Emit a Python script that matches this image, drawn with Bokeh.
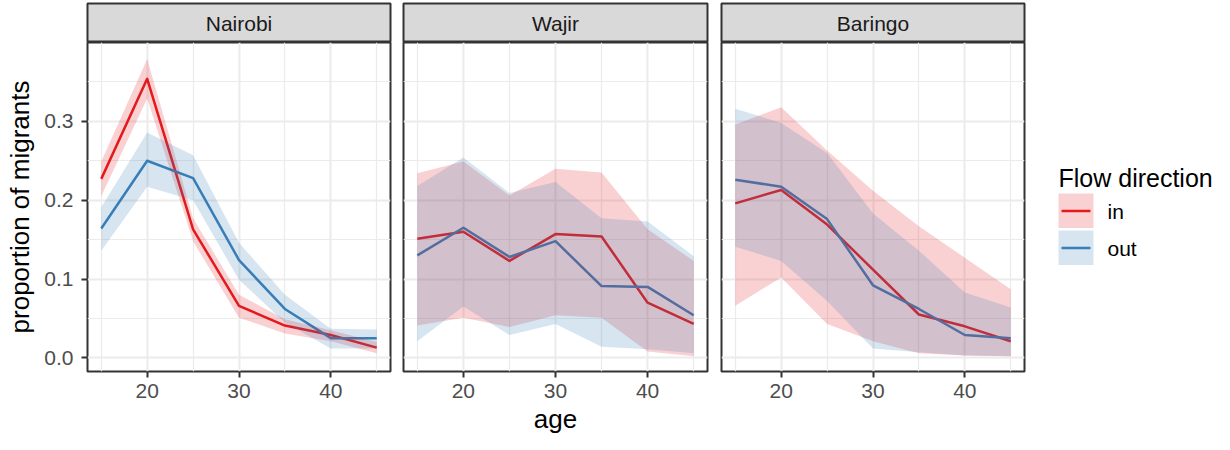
from bokeh.plotting import figure
from bokeh.layouts import row, column
from bokeh.models import Range1d, FixedTicker, PrintfTickFormatter, Grid
from bokeh.embed import file_html
from bokeh.resources import INLINE
from bokeh.core.properties import value

# ---------------- data ----------------
ages = [15, 20, 25, 30, 35, 40, 45]
regions = ["Nairobi", "Wajir", "Baringo"]
flows = ["in", "out"]
legend_title = "Flow direction"
x_title = "age"
y_title = "proportion of migrants"

nairobi_in = [0.227, 0.354, 0.163, 0.066, 0.041, 0.029, 0.013]
nairobi_in_lo = [0.205, 0.329, 0.148, 0.051, 0.031, 0.021, 0.006]
nairobi_in_hi = [0.249, 0.379, 0.177, 0.080, 0.049, 0.035, 0.020]
nairobi_out = [0.164, 0.250, 0.228, 0.124, 0.062, 0.025, 0.025]
nairobi_out_lo = [0.136, 0.217, 0.200, 0.099, 0.045, 0.012, 0.012]
nairobi_out_hi = [0.191, 0.286, 0.257, 0.146, 0.080, 0.037, 0.036]

wajir_in = [0.151, 0.160, 0.123, 0.157, 0.154, 0.070, 0.043]
wajir_in_lo = [0.041, 0.051, 0.039, 0.054, 0.051, 0.008, 0.002]
wajir_in_hi = [0.234, 0.249, 0.206, 0.240, 0.235, 0.163, 0.123]
wajir_out = [0.130, 0.165, 0.128, 0.148, 0.091, 0.090, 0.054]
wajir_out_lo = [0.021, 0.065, 0.029, 0.043, 0.014, 0.011, 0.006]
wajir_out_hi = [0.218, 0.254, 0.209, 0.223, 0.177, 0.173, 0.129]

baringo_in = [0.196, 0.213, 0.169, 0.112, 0.055, 0.040, 0.021]
baringo_in_lo = [0.066, 0.102, 0.043, 0.021, 0.006, 0.003, 0.002]
baringo_in_hi = [0.296, 0.318, 0.263, 0.212, 0.167, 0.127, 0.087]
baringo_out = [0.226, 0.217, 0.176, 0.092, 0.062, 0.029, 0.025]
baringo_out_lo = [0.141, 0.123, 0.072, 0.012, 0.007, 0.003, 0.002]
baringo_out_hi = [0.316, 0.298, 0.260, 0.183, 0.136, 0.083, 0.064]

x_ticks = [20, 30, 40]
x_minor = [15, 25, 35, 45]
y_ticks = [0.0, 0.1, 0.2, 0.3]
y_minor = [0.05, 0.15, 0.25, 0.35]

series = {
    "Nairobi": {"in": (nairobi_in, nairobi_in_lo, nairobi_in_hi),
                "out": (nairobi_out, nairobi_out_lo, nairobi_out_hi)},
    "Wajir": {"in": (wajir_in, wajir_in_lo, wajir_in_hi),
              "out": (wajir_out, wajir_out_lo, wajir_out_hi)},
    "Baringo": {"in": (baringo_in, baringo_in_lo, baringo_in_hi),
                "out": (baringo_out, baringo_out_lo, baringo_out_hi)},
}

# ---------------- style ----------------
FONT = "Liberation Sans"
colors = {"in": "#E41A1C", "out": "#377EB8"}
RIB_ALPHA = 0.2
BORDER = "#333333"
GRID = "#EBEBEB"
FRAME_H = 329
STRIP_H = 39
lefts = [87, 7, 7]
rights = [6, 7, 5]
fwidths = [303, 304, 303]


def make_strip(name, i):
    s = figure(frame_width=fwidths[i], frame_height=STRIP_H,
               x_range=Range1d(0, 1), y_range=Range1d(0, 1),
               x_axis_location=None, y_axis_location=None,
               min_border_left=lefts[i], min_border_right=rights[i],
               min_border_top=3, min_border_bottom=0,
               background_fill_color="#D9D9D9", border_fill_color="white",
               outline_line_color=BORDER, outline_line_width=2,
               toolbar_location=None, output_backend="svg")
    s.grid.visible = False
    s.text(x=[0.5], y=[0.5], text=[name], text_align="center",
           text_baseline="middle", text_font=value(FONT),
           text_font_size="21px", text_color="#1A1A1A")
    return s


def make_panel(name, i):
    p = figure(frame_width=fwidths[i], frame_height=FRAME_H,
               x_range=Range1d(13.5, 46.5), y_range=Range1d(-0.0173, 0.4),
               y_axis_location="left" if i == 0 else None,
               min_border_left=lefts[i], min_border_right=rights[i],
               min_border_top=0, min_border_bottom=0,
               background_fill_color="white", border_fill_color="white",
               outline_line_color=BORDER, outline_line_width=2,
               toolbar_location=None, output_backend="svg")
    p.grid.visible = False
    for dim, tk, mn in ((0, x_ticks, x_minor), (1, y_ticks, y_minor)):
        g = Grid(dimension=dim, ticker=FixedTicker(ticks=tk, minor_ticks=mn),
                 grid_line_color=GRID, grid_line_width=2,
                 minor_grid_line_color=GRID, minor_grid_line_width=1.2)
        p.add_layout(g, "center")

    xa = p.xaxis[0]
    xa.ticker = FixedTicker(ticks=x_ticks)
    axes = [xa]
    if i == 0:
        ya = p.yaxis[0]
        ya.ticker = FixedTicker(ticks=y_ticks)
        ya.formatter = PrintfTickFormatter(format="%.1f")
        ya.axis_label = y_title
        ya.axis_label_standoff = 6
        ya.major_label_standoff = 8
        axes.append(ya)
    if i == 1:
        xa.axis_label = x_title
        xa.axis_label_standoff = 3
    xa.major_label_standoff = 6
    for a in axes:
        a.axis_line_color = None
        a.major_tick_out = 6
        a.major_tick_in = 0
        a.major_tick_line_color = BORDER
        a.major_tick_line_width = 2
        a.minor_tick_line_color = None
        a.major_label_text_font = FONT
        a.major_label_text_font_size = "21px"
        a.major_label_text_color = "#4D4D4D"
        a.axis_label_text_font = FONT
        a.axis_label_text_font_size = "26px"
        a.axis_label_text_font_style = "normal"
        a.axis_label_text_color = "black"

    # lines first, ribbons drawn over them (as in the reference)
    for f in flows:
        mid, lo, hi = series[name][f]
        p.line(ages, mid, line_color=colors[f], line_width=2.5, line_join="round")
    for f in flows:
        mid, lo, hi = series[name][f]
        p.varea(x=ages, y1=lo, y2=hi, fill_color=colors[f], fill_alpha=RIB_ALPHA)
    return p


cols = [column(make_strip(n, i), make_panel(n, i)) for i, n in enumerate(regions)]

# ---------------- legend ----------------
LW, LH = 185, 432
lg = figure(frame_width=LW, frame_height=LH, x_range=Range1d(0, LW), y_range=Range1d(LH, 0),
            x_axis_location=None, y_axis_location=None, min_border=0,
            outline_line_color=None, background_fill_color="white",
            border_fill_color="white", toolbar_location=None, output_backend="svg")
lg.grid.visible = False
lx = 29
lg.text(x=[lx], y=[177], text=[legend_title], text_align="left",
        text_baseline="alphabetic", text_font=value(FONT),
        text_font_size="25px", text_color="black")
key = 35
tops = [193 + k * (key + 2) for k in range(len(flows))]
lg.quad(left=[lx] * 2, right=[lx + key] * 2, top=tops, bottom=[t + key - 0.5 for t in tops],
        fill_color=[colors[f] for f in flows], fill_alpha=RIB_ALPHA, line_color=None)
for t, f in zip(tops, flows):
    cy = t + key / 2
    lg.line([lx + 3, lx + key - 3], [cy, cy], line_color=colors[f], line_width=2.5)
lg.text(x=[lx + 49] * 2, y=[t + key / 2 for t in tops], text=flows, text_align="left",
        text_baseline="middle", text_font=value(FONT), text_font_size="21px",
        text_color="black")

layout = row(*cols, lg)
open("out.html", "w").write(file_html(layout, INLINE))
